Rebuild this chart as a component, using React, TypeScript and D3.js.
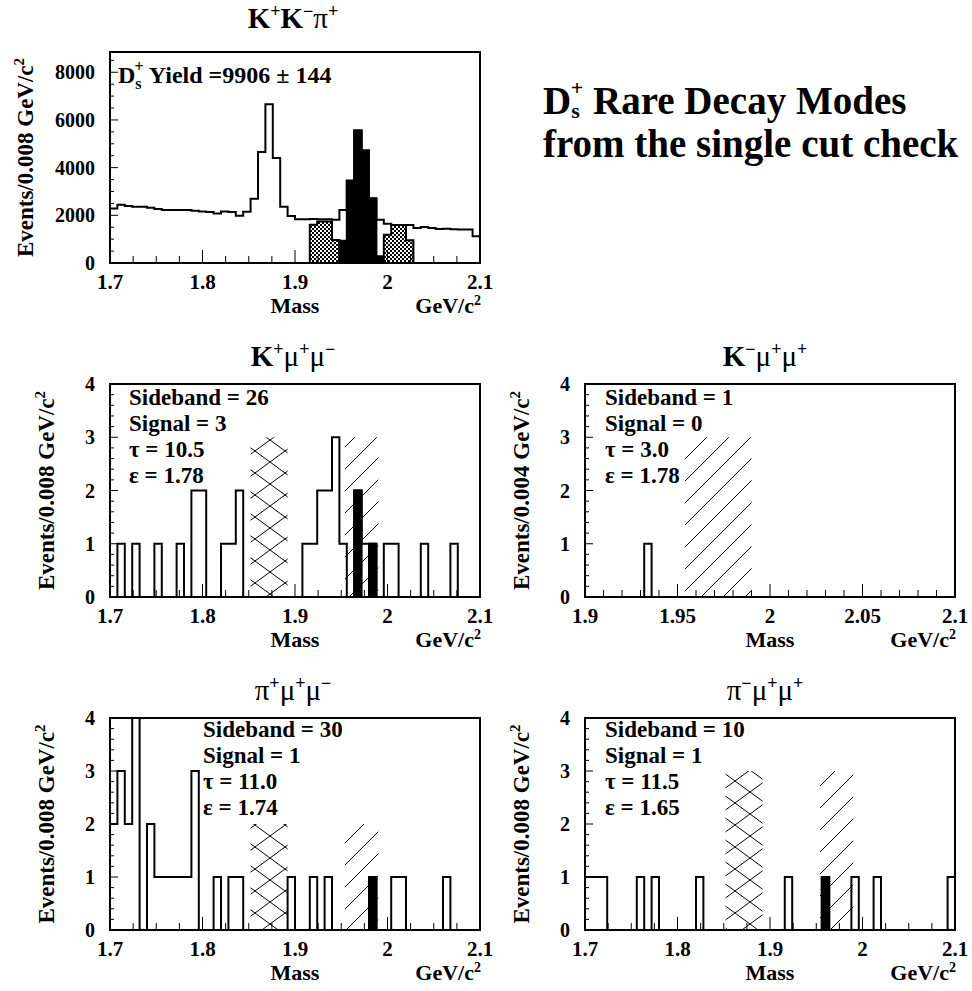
import React from "react";
import * as d3 from "d3";

const SERIF = '"Liberation Serif", "Times New Roman", Times, serif';

// K+K-pi+ reference sample, 0.008 GeV/c^2 bins starting at 1.7
const kkpiCounts = [
  2290, 2440, 2390, 2360, 2360, 2320, 2265, 2220, 2220, 2220,
  2220, 2190, 2165, 2135, 2080, 2165, 2135, 1985, 2150, 2695,
  4660, 6660, 4400, 2360, 1970, 1830, 1830, 1850, 1840, 1840,
  1815, 2220, 3460, 5560, 4720, 2720, 1815, 1650, 1590, 1590,
  1590, 1470, 1510, 1470, 1425, 1440, 1420, 1400, 1400, 1120,
];
const kkpiSideLoStart = 1.916;
const kkpiSideLo = [1600, 1740, 1740, 960];
const kkpiSignalStart = 1.948;
const kkpiSignal = [930, 3440, 5560, 4720, 2700, 280];
const kkpiSideHiStart = 1.996;
const kkpiSideHi = [1180, 1590, 1590, 950];

// rare modes, 50 bins each
const kmumuCounts = [
  0, 1, 0, 1, 0, 0, 1, 0, 0, 1,
  0, 2, 2, 0, 0, 1, 1, 2, 0, 0,
  0, 0, 0, 0, 0, 0, 1, 1, 2, 2,
  3, 1, 0, 2, 1, 1, 0, 1, 1, 0,
  0, 0, 1, 0, 0, 0, 1, 0, 0, 0,
];
const kmumuSignal = [
  0, 0, 0, 0, 0, 0, 0, 0, 0, 0,
  0, 0, 0, 0, 0, 0, 0, 0, 0, 0,
  0, 0, 0, 0, 0, 0, 0, 0, 0, 0,
  0, 0, 0, 2, 0, 1, 0, 0, 0, 0,
  0, 0, 0, 0, 0, 0, 0, 0, 0, 0,
];
const kmupmupCounts = [
  0, 0, 0, 0, 0, 0, 0, 0, 1, 0,
  0, 0, 0, 0, 0, 0, 0, 0, 0, 0,
  0, 0, 0, 0, 0, 0, 0, 0, 0, 0,
  0, 0, 0, 0, 0, 0, 0, 0, 0, 0,
  0, 0, 0, 0, 0, 0, 0, 0, 0, 0,
];
const pimumuCounts = [
  2, 3, 2, 4, 0, 2, 1, 1, 1, 1,
  1, 3, 0, 0, 1, 0, 1, 1, 0, 0,
  0, 0, 0, 0, 1, 0, 0, 1, 0, 1,
  0, 0, 0, 0, 0, 1, 0, 0, 1, 1,
  0, 0, 0, 0, 0, 1, 0, 0, 0, 0,
];
const pimumuSignal = [
  0, 0, 0, 0, 0, 0, 0, 0, 0, 0,
  0, 0, 0, 0, 0, 0, 0, 0, 0, 0,
  0, 0, 0, 0, 0, 0, 0, 0, 0, 0,
  0, 0, 0, 0, 0, 1, 0, 0, 0, 0,
  0, 0, 0, 0, 0, 0, 0, 0, 0, 0,
];
const pimupmupCounts = [
  1, 1, 1, 0, 0, 0, 0, 1, 0, 1,
  0, 0, 0, 0, 0, 1, 0, 0, 0, 0,
  0, 0, 0, 0, 0, 0, 0, 1, 0, 0,
  0, 0, 1, 0, 0, 0, 1, 0, 0, 1,
  0, 0, 0, 0, 0, 0, 0, 0, 0, 1,
];
const pimupmupSignal = [
  0, 0, 0, 0, 0, 0, 0, 0, 0, 0,
  0, 0, 0, 0, 0, 0, 0, 0, 0, 0,
  0, 0, 0, 0, 0, 0, 0, 0, 0, 0,
  0, 0, 1, 0, 0, 0, 0, 0, 0, 0,
  0, 0, 0, 0, 0, 0, 0, 0, 0, 0,
];

// sideband / signal windows (GeV/c^2)
const sideWindow = [1.852, 1.892];
const signalWindow = [1.954, 1.99];

const wideTicks = ["1.7", "1.8", "1.9", "2", "2.1"];
const narrowTicks = ["1.9", "1.95", "2", "2.05", "2.1"];
const kkpiYTicks = ["0", "2000", "4000", "6000", "8000"];
const rareYTicks = ["0", "1", "2", "3", "4"];

type Fill = { start: number; vals: number[]; fill: string };
type Band = { lo: number; hi: number; top: number; fill: string };

type PanelProps = {
  x0: number; y0: number; w: number; h: number;
  xDom: [number, number]; yMax: number; binW: number;
  counts: number[];
  fills: Fill[];
  bands: Band[];
  xLabels: string[]; xMinor: number;
  yLabels: string[]; yMinor: number;
  yTitle: string; yTitleX: number;
  children?: React.ReactNode;
};

function stepPts(start: number, bw: number, vals: number[]) {
  const pts = vals.map((v, i) => [start + i * bw, v]);
  pts.push([start + vals.length * bw, vals[vals.length - 1]]);
  return pts;
}

function Panel(p: PanelProps) {
  const x = d3.scaleLinear().domain(p.xDom).range([p.x0, p.x0 + p.w]);
  const y = d3.scaleLinear().domain([0, p.yMax]).range([p.y0 + p.h, p.y0]);
  const area = d3.area<number[]>()
    .x(d => x(d[0])).y0(y(0)).y1(d => y(d[1]))
    .curve(d3.curveStepAfter);
  const line = d3.line<number[]>()
    .x(d => x(d[0])).y(d => y(d[1]))
    .curve(d3.curveStepAfter);
  const n = p.counts.length;
  const outline = [[p.xDom[0], 0], ...stepPts(p.xDom[0], p.binW, p.counts), [p.xDom[0] + n * p.binW, 0]];

  const majorX = p.xLabels.map(Number);
  const nMinX = Math.round((p.xDom[1] - p.xDom[0]) / p.xMinor);
  const minorX = d3.range(1, nMinX).map(i => p.xDom[0] + i * p.xMinor);
  const majorY = p.yLabels.map(Number);
  const nMinY = Math.floor(p.yMax / p.yMinor + 1e-6);
  const minorY = d3.range(1, nMinY + 1).map(i => i * p.yMinor);
  const isMajor = (v: number, arr: number[], eps: number) => arr.some(a => Math.abs(a - v) < eps);
  const bottom = p.y0 + p.h;

  return (
    <g>
      {p.bands.map((b, i) => (
        <rect key={`b${i}`} x={x(b.lo)} y={y(b.top)} width={x(b.hi) - x(b.lo)}
          height={y(0) - y(b.top)} fill={b.fill} />
      ))}
      {p.fills.map((f, i) => (
        <path key={`f${i}`} d={area(stepPts(f.start, p.binW, f.vals)) || ""}
          fill={f.fill} stroke="#000" strokeWidth={2} />
      ))}
      <path d={line(outline) || ""} fill="none" stroke="#000" strokeWidth={2} />
      {minorX.map((v, i) => {
        const big = isMajor(v, majorX, 1e-6);
        return <line key={`mx${i}`} x1={x(v)} x2={x(v)} y1={bottom} y2={bottom - (big ? 13 : 7)}
          stroke="#000" strokeWidth={1} />;
      })}
      {minorY.map((v, i) => {
        const big = isMajor(v, majorY, p.yMinor / 10);
        return <line key={`my${i}`} x1={p.x0} x2={p.x0 + (big ? 8 : 4)} y1={y(v)} y2={y(v)}
          stroke="#000" strokeWidth={1} />;
      })}
      <rect x={p.x0} y={p.y0} width={p.w} height={p.h} fill="none" stroke="#000" strokeWidth={2} />
      {p.xLabels.map((t, i) => (
        <text key={`xl${i}`} x={x(majorX[i])} y={bottom + 26} textAnchor="middle"
          fontSize={21} fontWeight="bold">{t}</text>
      ))}
      {p.yLabels.map((t, i) => (
        <text key={`yl${i}`} x={p.x0 - 15} y={y(majorY[i])} dy="0.35em" textAnchor="end"
          fontSize={20} fontWeight="bold">{t}</text>
      ))}
      <text x={p.x0 + p.w / 2} y={bottom + 50} textAnchor="middle" fontSize={22} fontWeight="bold">Mass</text>
      <text x={p.x0 + p.w + 1} y={bottom + 50} textAnchor="end" fontSize={22} fontWeight="bold">
        GeV/c<tspan dy={-8} fontSize={14}>2</tspan>
      </text>
      <text transform={`translate(${p.yTitleX},${p.y0 + p.h / 2}) rotate(-90)`} textAnchor="middle"
        fontSize={23} fontWeight="bold">
        {p.yTitle}<tspan dy={-9} fontSize={15}>2</tspan>
      </text>
      {p.children}
    </g>
  );
}

function Notes({ x, y, lines }: { x: number; y: number; lines: string[] }) {
  return (
    <g>
      {lines.map((l, i) => (
        <text key={i} x={x} y={y + i * 26} fontSize={23} fontWeight="bold">{l}</text>
      ))}
    </g>
  );
}

function Title({ x, y, parts }: { x: number; y: number; parts: [string, string, boolean][] }) {
  // each part: base glyph, superscript, bold base
  return (
    <text x={x} y={y} textAnchor="middle" fontSize={29}>
      {parts.map(([b, s, bold], i) => (
        <React.Fragment key={i}>
          <tspan dy={i === 0 ? 0 : 11} fontWeight={bold ? "bold" : "normal"}>{b}</tspan>
          <tspan dy={-11} fontSize={18} fontWeight="bold">{s}</tspan>
        </React.Fragment>
      ))}
    </text>
  );
}

export default function App() {
  const cross = "url(#crossHatch)";
  const diag = "url(#diagHatch)";
  const dense = "url(#denseHatch)";
  const rareCommon = {
    w: 370, h: 213, yMax: 4, binW: 0.008,
    yLabels: rareYTicks, yMinor: 0.2, xMinor: 0.025,
    yTitle: "Events/0.008 GeV/c",
  };
  return (
    <svg width={972} height={991} style={{ position: "absolute", left: 0, top: 0, background: "#fff" }}
      fontFamily={SERIF}>
      <defs>
        <pattern id="denseHatch" width={4} height={4} patternUnits="userSpaceOnUse">
          <rect width={4} height={4} fill="#fff" />
          <rect width={2} height={2} fill="#000" />
          <rect x={2} y={2} width={2} height={2} fill="#000" />
        </pattern>
        <pattern id="crossHatch" width={30} height={22} patternUnits="userSpaceOnUse">
          <line x1={0} y1={0} x2={30} y2={22} stroke="#000" strokeWidth={1} />
          <line x1={0} y1={22} x2={30} y2={0} stroke="#000" strokeWidth={1} />
        </pattern>
        <pattern id="diagHatch" width={22} height={22} patternUnits="userSpaceOnUse">
          <line x1={0} y1={22} x2={22} y2={0} stroke="#000" strokeWidth={1} />
          <line x1={-2} y1={2} x2={2} y2={-2} stroke="#000" strokeWidth={1} />
          <line x1={20} y1={24} x2={24} y2={20} stroke="#000" strokeWidth={1} />
        </pattern>
      </defs>

      <Title x={293} y={28} parts={[["K", "+", true], ["K", "\u2212", true], ["\u03c0", "+", false]]} />
      <Panel x0={110} y0={52} w={370} h={211} xDom={[1.7, 2.1]} yMax={8850} binW={0.008}
        counts={kkpiCounts}
        fills={[
          { start: kkpiSideLoStart, vals: kkpiSideLo, fill: dense },
          { start: kkpiSignalStart, vals: kkpiSignal, fill: "#000" },
          { start: kkpiSideHiStart, vals: kkpiSideHi, fill: dense },
        ]}
        bands={[]}
        xLabels={wideTicks} xMinor={0.025}
        yLabels={kkpiYTicks} yMinor={500}
        yTitle="Events/0.008 GeV/c" yTitleX={33}>
        <text x={118} y={83} fontSize={24} fontWeight="bold">
          D<tspan dy={6} fontSize={16}>s</tspan><tspan dx={-7} dy={-17} fontSize={16}>+</tspan>
          <tspan dy={11}> Yield =9906 ± 144</tspan>
        </text>
      </Panel>

      <text x={543} y={114} fontSize={39} fontWeight="bold">
        D<tspan dy={4} fontSize={22}>s</tspan><tspan dx={-9} dy={-23} fontSize={22}>+</tspan>
        <tspan dy={19}> Rare Decay Modes</tspan>
      </text>
      <text x={543} y={157} fontSize={39} fontWeight="bold">from the single cut check</text>

      <Title x={293} y={366} parts={[["K", "+", true], ["\u03bc", "+", false], ["\u03bc", "\u2212", false]]} />
      <Panel {...rareCommon} x0={110} y0={384} xDom={[1.7, 2.1]} counts={kmumuCounts}
        fills={[{ start: 1.7, vals: kmumuSignal, fill: "#000" }]}
        bands={[
          { lo: sideWindow[0], hi: sideWindow[1], top: 3, fill: cross },
          { lo: signalWindow[0], hi: signalWindow[1], top: 3, fill: diag },
        ]}
        xLabels={wideTicks} yTitleX={54}>
        <Notes x={129} y={405} lines={["Sideband = 26", "Signal = 3", "\u03c4 = 10.5", "\u03b5 = 1.78"]} />
      </Panel>

      <Title x={765} y={366} parts={[["K", "\u2212", true], ["\u03bc", "+", false], ["\u03bc", "+", false]]} />
      <Panel {...rareCommon} x0={585} y0={384} xDom={[1.9, 2.1]} binW={0.004} counts={kmupmupCounts}
        fills={[]}
        bands={[{ lo: signalWindow[0], hi: signalWindow[1], top: 3, fill: diag }]}
        xLabels={narrowTicks} xMinor={0.01} yTitle="Events/0.004 GeV/c" yTitleX={529}>
        <Notes x={605} y={405} lines={["Sideband = 1", "Signal = 0", "\u03c4 = 3.0", "\u03b5 = 1.78"]} />
      </Panel>

      <Title x={293} y={700} parts={[["\u03c0", "+", false], ["\u03bc", "+", false], ["\u03bc", "\u2212", false]]} />
      <Panel {...rareCommon} x0={110} y0={718} h={212} xDom={[1.7, 2.1]} counts={pimumuCounts}
        fills={[{ start: 1.7, vals: pimumuSignal, fill: "#000" }]}
        bands={[
          { lo: sideWindow[0], hi: sideWindow[1], top: 2, fill: cross },
          { lo: signalWindow[0], hi: signalWindow[1], top: 2, fill: diag },
        ]}
        xLabels={wideTicks} yTitleX={54}>
        <Notes x={203} y={737} lines={["Sideband = 30", "Signal = 1", "\u03c4 = 11.0", "\u03b5 = 1.74"]} />
      </Panel>

      <Title x={765} y={700} parts={[["\u03c0", "\u2212", false], ["\u03bc", "+", false], ["\u03bc", "+", false]]} />
      <Panel {...rareCommon} x0={585} y0={718} h={212} xDom={[1.7, 2.1]} counts={pimupmupCounts}
        fills={[{ start: 1.7, vals: pimupmupSignal, fill: "#000" }]}
        bands={[
          { lo: sideWindow[0], hi: sideWindow[1], top: 3, fill: cross },
          { lo: signalWindow[0], hi: signalWindow[1], top: 3, fill: diag },
        ]}
        xLabels={wideTicks} yTitleX={529}>
        <Notes x={605} y={737} lines={["Sideband = 10", "Signal = 1", "\u03c4 = 11.5", "\u03b5 = 1.65"]} />
      </Panel>
    </svg>
  );
}
